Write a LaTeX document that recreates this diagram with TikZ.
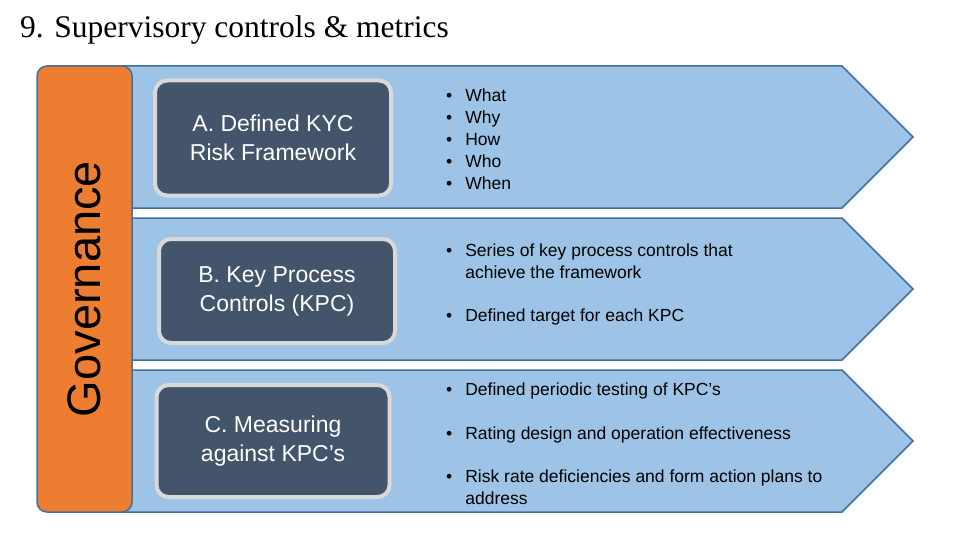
\documentclass[tikz,border=0pt]{standalone}
\usepackage{fontspec}
\setmainfont{Liberation Sans}
\newfontfamily\serif{Liberation Serif}
\begin{document}
\begin{tikzpicture}[x=1pt,y=-1pt,
  chev/.style={fill=blueF,draw=blueD,line width=1.5pt},
  darkbox/.style={fill=darkF,draw=grayB,line width=4pt,rounded corners=12pt,text=white,align=center,font=\fontsize{23}{29}\selectfont,inner sep=0pt},
  btxt/.style={anchor=north west,align=left,font=\fontsize{17.5}{22}\selectfont,inner sep=0pt}]
\definecolor{blueF}{HTML}{9DC3E6}
\definecolor{blueD}{HTML}{41719C}
\definecolor{darkF}{HTML}{44546A}
\definecolor{grayB}{HTML}{D9D9D9}
\definecolor{orangeF}{HTML}{ED7D31}
\useasboundingbox (0,0) rectangle (960,540);
\node[anchor=west,font=\serif\fontsize{31.5}{34}\selectfont,inner sep=0pt] (title) at (20,30) {9. Supervisory controls \& metrics};
\draw[chev] (100,66) -- (842,66) -- (913,137) -- (842,208) -- (100,208) -- cycle;
\draw[chev] (100,218) -- (842,218) -- (913,289) -- (842,360) -- (100,360) -- cycle;
\draw[chev] (100,370) -- (842,370) -- (913,441) -- (842,512) -- (100,512) -- cycle;
\draw[fill=orangeF,draw=blueD,line width=1.5pt,rounded corners=10pt] (37,66) rectangle (132,512);
\node[rotate=90,font=\fontsize{47}{50}\selectfont,inner sep=0pt] (gov) at (84,289) {Governance};
\node[darkbox,minimum width=236pt,minimum height=115pt] (A) at (273,138) {A. Defined KYC\\Risk Framework};
\node[darkbox,minimum width=236pt,minimum height=104pt] (B) at (277,291) {B. Key Process\\Controls (KPC)};
\node[darkbox,minimum width=233pt,minimum height=112pt] (C) at (273,441) {C. Measuring\\against KPC’s};
\node[btxt] (t1) at (446,86) {\begin{tabular}{@{}l@{\hspace{13pt}}l@{}}•&What\\•&Why\\•&How\\•&Who\\•&When\end{tabular}};
\node[btxt] (t2) at (446,241) {\begin{tabular}{@{}l@{\hspace{13pt}}l@{}}•&Series of key process controls that\\ &achieve the framework\\[21pt]•&Defined target for each KPC\end{tabular}};
\node[btxt] (t3) at (446,380) {\begin{tabular}{@{}l@{\hspace{13pt}}l@{}}•&Defined periodic testing of KPC’s\\[22pt]•&Rating design and operation effectiveness\\[21pt]•&Risk rate deficiencies and form action plans to\\ &address\end{tabular}};
\end{tikzpicture}
\end{document}
